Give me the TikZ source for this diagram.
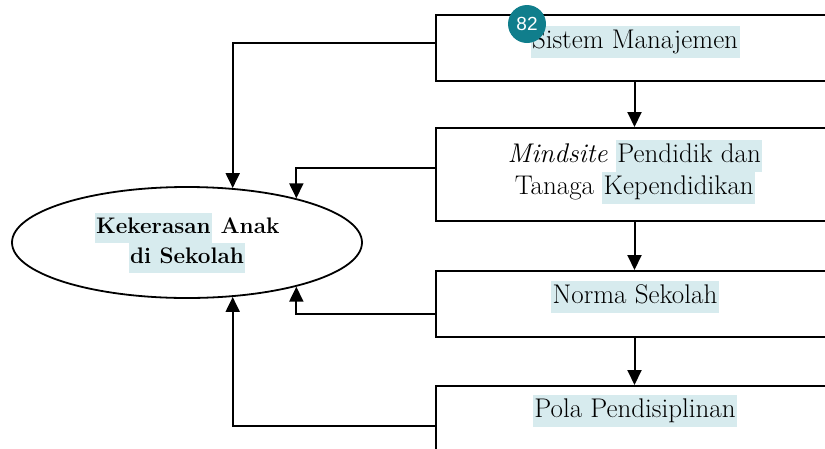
\documentclass[tikz,border=0pt]{standalone}
\usepackage{fontspec}
\usetikzlibrary{shapes,arrows.meta}
\newfontfamily\badgefont{Liberation Sans}
\definecolor{sorot}{RGB}{215,235,238}
\definecolor{tosca}{RGB}{16,126,140}
\newcommand{\hlt}[1]{{\setlength{\fboxsep}{0pt}\colorbox{sorot}{\strut\kern1.5pt#1\kern1.5pt}}}
\newcommand{\kotak}[5]{
  \node[kotak, minimum height=#3] (#1) at (634.5,#2) {};
  \node[teks] (#1t) at (635,#4) {#5};
}
\tikzset{
  kotak/.style={rectangle, draw, line width=2pt, minimum width=398},
  teks/.style={inner sep=0, align=center, font=\fontsize{27}{32}\selectfont},
  panah/.style={-{Triangle[length=15pt,width=14pt]}, line width=2pt},
  lencana/.style={circle, fill=tosca, text=white, minimum size=38, inner sep=0,
    font=\badgefont\fontsize{19}{22}\selectfont}
}

\begin{document}
\begin{tikzpicture}[x=1pt, y=-1pt]

  \useasboundingbox (0,0) rectangle (825,448);
  \clip (0,0) rectangle (825,448);

  % Faktor
  % ======

  \kotak{sm}{48}{66}{42}{\hlt{Sistem Manajemen}}
  \kotak{mp}{174.5}{93}{172}{\textit{Mindsite} \hlt{Pendidik dan}\\ Tanaga \hlt{Kependidikan}}
  \kotak{ns}{304}{66}{297}{\hlt{Norma Sekolah}}
  \kotak{pp}{419}{66}{411}{\hlt{Pola Pendisiplinan}}

  \foreach \a/\b in {sm/mp, mp/ns, ns/pp}
  \draw[panah] (\a.south)--(\b.north);

  % Kekerasan
  % =========

  \node[ellipse, draw, line width=1.8pt, minimum width=350, minimum height=111,
    inner sep=0, align=center, font=\bfseries\fontsize{22.5}{30}\selectfont]
    (kas) at (187,242.5) {\hlt{Kekerasan} Anak\\ \hlt{di Sekolah}};

  \draw[panah] ([yshift=5pt]sm.west) -| (kas.50);
  \draw[panah] ([yshift=6.5pt]mp.west) -| (kas.22);
  \draw[panah] ([yshift=-10pt]ns.west) -| (kas.-22);
  \draw[panah] ([yshift=-7pt]pp.west) -| (kas.-50);

  % Halaman
  % -------
  \node[lencana] (hal) at (527,24) {82};

\end{tikzpicture}
\end{document}
